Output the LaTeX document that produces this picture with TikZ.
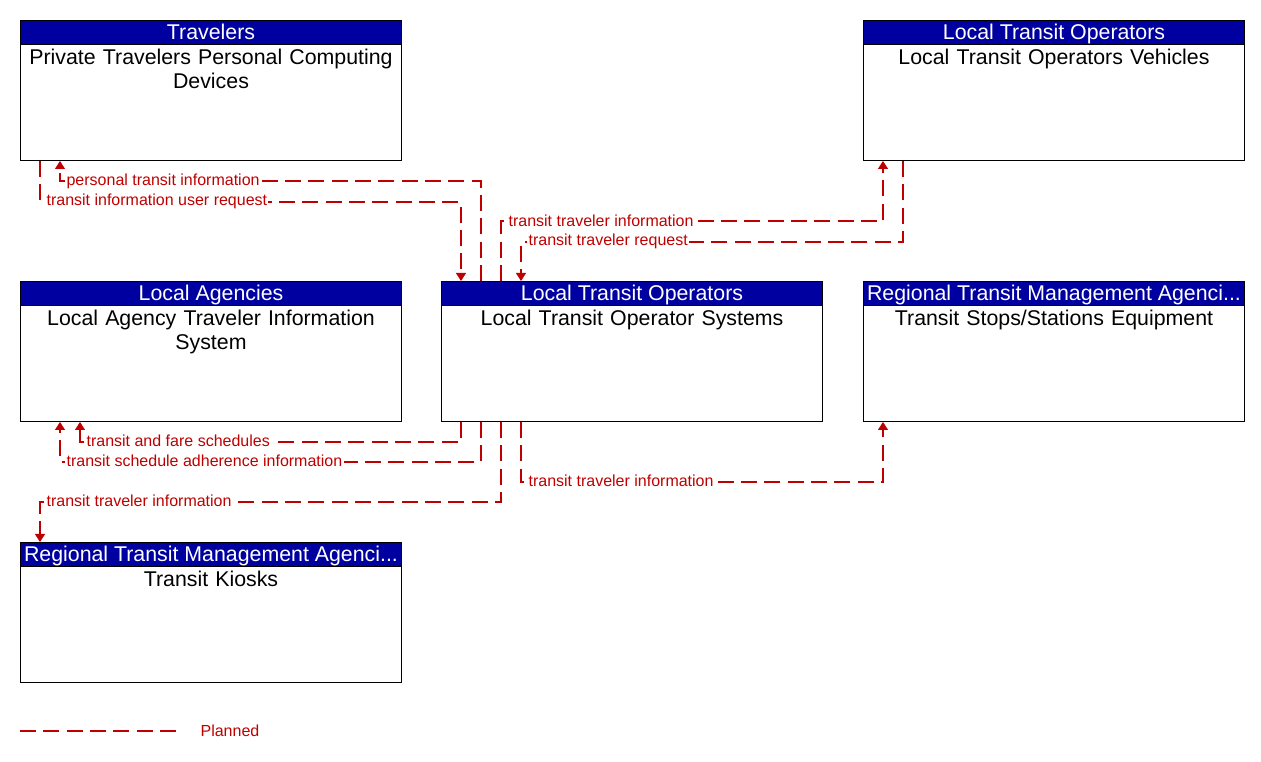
\documentclass[tikz,border=0pt]{standalone}
\usepackage{fontspec}
\setmainfont{Liberation Sans}
\usetikzlibrary{arrows.meta,calc}
\definecolor{hdrblue}{RGB}{0,0,160}
\definecolor{flowred}{RGB}{192,0,0}
\begin{document}
\begin{tikzpicture}[x=0.75pt,y=-0.75pt,
 box/.style={draw=black,line width=0.75pt,anchor=north west,minimum width=285.75pt,minimum height=105pt,inner sep=0pt},
 hdr/.style={draw=black,line width=0.75pt,fill=hdrblue,text=white,anchor=north,minimum width=285.75pt,minimum height=18pt,inner sep=0pt,text height=13pt,text depth=2pt,font=\fontsize{16}{18}\selectfont},
 body/.style={anchor=north,text width=280pt,align=center,inner sep=3pt,font=\fontsize{16}{18}\selectfont},
 flow/.style={draw=flowred,line width=0.8pt,dash pattern=on 12pt off 5.5pt},
 arr/.style={-{Triangle[width=7.5pt,length=6pt]}},
 lbl/.style={anchor=west,fill=white,inner sep=1pt,text=flowred,font=\fontsize{12}{14}\selectfont}]

\useasboundingbox (0,0) rectangle (1261,762);

% boxes
\node[box] (trav) at (20,20) {};
\node[hdr] (travh) at (trav.north) {Travelers};
\node[body] (travb) at (travh.south) {Private Travelers Personal Computing\\Devices};

\node[box] (ltov) at (863,20) {};
\node[hdr] (ltovh) at (ltov.north) {Local Transit Operators};
\node[body] (ltovb) at (ltovh.south) {Local Transit Operators Vehicles};

\node[box] (la) at (20,281) {};
\node[hdr] (lah) at (la.north) {Local Agencies};
\node[body] (lab) at (lah.south) {Local Agency Traveler Information\\System};

\node[box] (lts) at (441,281) {};
\node[hdr] (ltsh) at (lts.north) {Local Transit Operators};
\node[body] (ltsb) at (ltsh.south) {Local Transit Operator Systems};

\node[box] (tse) at (863,281) {};
\node[hdr] (tseh) at (tse.north) {Regional Transit Management Agenci...};
\node[body] (tseb) at (tseh.south) {Transit Stops/Stations Equipment};

\node[box] (kio) at (20,542) {};
\node[hdr] (kioh) at (kio.north) {Regional Transit Management Agenci...};
\node[body] (kiob) at (kioh.south) {Transit Kiosks};

% connectors
\draw[flow,arr] ($(lts.north west)+(40,0)$) -- ++(0,-100) -| ($(trav.south west)+(40,0)$);
\draw[flow,arr] ($(trav.south west)+(20,0)$) -- ++(0,41) -| ($(lts.north west)+(20,0)$);
\draw[flow,arr] ($(lts.north west)+(60,0)$) -- ++(0,-60) -| ($(ltov.south west)+(20,0)$);
\draw[flow,arr] ($(ltov.south west)+(40,0)$) -- ++(0,81) -| ($(lts.north west)+(80,0)$);
\draw[flow,arr] ($(lts.south west)+(20,0)$) -- ++(0,20) -| ($(la.south west)+(60,0)$);
\draw[flow,arr] ($(lts.south west)+(40,0)$) -- ++(0,40) -| ($(la.south west)+(40,0)$);
\draw[flow,arr] ($(lts.south west)+(60,0)$) -- ++(0,80) -| ($(kio.north west)+(20,0)$);
\draw[flow,arr] ($(lts.south west)+(80,0)$) -- ++(0,60) -| ($(tse.south west)+(20,0)$);

% labels
\node[lbl] (l1) at (65,181) {personal transit information};
\node[lbl] (l2) at (45,201) {transit information user request};
\node[lbl] (l3) at (507,221) {transit traveler information};
\node[lbl] (l4) at (527,241) {transit traveler request};
\node[lbl] (l5) at (85,441) {transit and fare schedules};
\node[lbl] (l6) at (65,461) {transit schedule adherence information};
\node[lbl] (l7) at (45,501) {transit traveler information};
\node[lbl] (l8) at (527,481) {transit traveler information};

% legend
\coordinate (lg1) at (20,731);
\coordinate (lg2) at (182,731);
\draw[flow] (lg1) -- (lg2);
\node[lbl,fill=none] (planned) at (199,731) {Planned};
\end{tikzpicture}
\end{document}
